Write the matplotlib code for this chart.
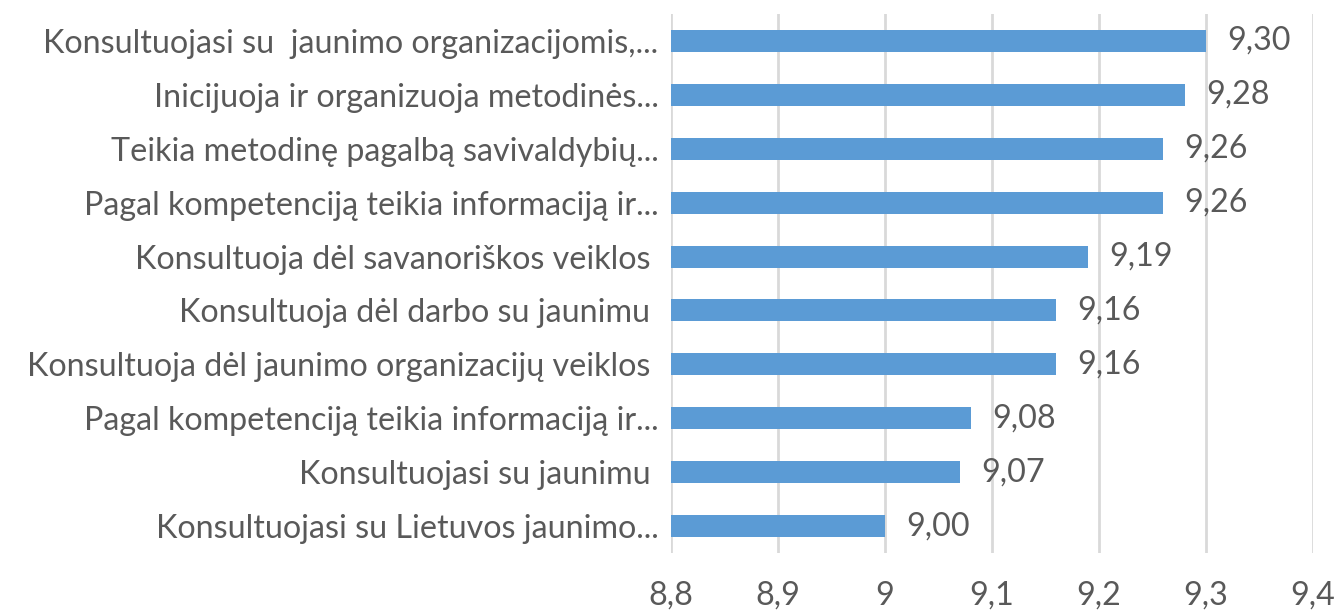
import numpy as np
import matplotlib.pyplot as plt

labels = [
    "Konsultuojasi su  jaunimo organizacijomis,...",
    "Inicijuoja ir organizuoja metodinės...",
    "Teikia metodinę pagalbą savivaldybių...",
    "Pagal kompetenciją teikia informaciją ir...",
    "Konsultuoja dėl savanoriškos veiklos ",
    "Konsultuoja dėl darbo su jaunimu ",
    "Konsultuoja dėl jaunimo organizacijų veiklos ",
    "Pagal kompetenciją teikia informaciją ir...",
    "Konsultuojasi su jaunimu ",
    "Konsultuojasi su Lietuvos jaunimo...",
]
values = [9.30, 9.28, 9.26, 9.26, 9.19, 9.16, 9.16, 9.08, 9.07, 9.00]
xticks = [8.8, 8.9, 9.0, 9.1, 9.2, 9.3, 9.4]
xtick_labels = ["8,8", "8,9", "9", "9,1", "9,2", "9,3", "9,4"]

plt.rcParams['font.family'] = ['Lato', 'DejaVu Sans']
text_col = '#595959'
fs = 23.2

fig = plt.figure(figsize=(13.41, 6.14), dpi=100)
ax = fig.add_axes([671 / 1341, 1 - 553 / 614, 642 / 1341, 539 / 614])

y = np.arange(len(values))[::-1]
base = 8.8
ax.barh(y, np.array(values) - base, left=base, height=0.41, color='#5b9bd5', zorder=3)

for yi, v in zip(y, values):
    ax.text(v + 0.02, yi, f"{v:.2f}".replace('.', ','), va='center', ha='left',
            fontsize=fs, color=text_col, zorder=4)

ax.set_xlim(8.8, 9.4)
ax.set_ylim(-0.5, 9.5)
ax.set_xticks(xticks)
ax.set_xticklabels(xtick_labels)
ax.set_yticks(y)
ax.set_yticklabels(labels)
ax.tick_params(axis='x', length=0, pad=20, labelsize=fs, labelcolor=text_col)
ax.tick_params(axis='y', length=0, pad=9, labelsize=fs, labelcolor=text_col)
ax.grid(axis='x', color='#d9d9d9', linewidth=2, zorder=0)
for s in ax.spines.values():
    s.set_visible(False)

fig.savefig('out.png', dpi=100)
